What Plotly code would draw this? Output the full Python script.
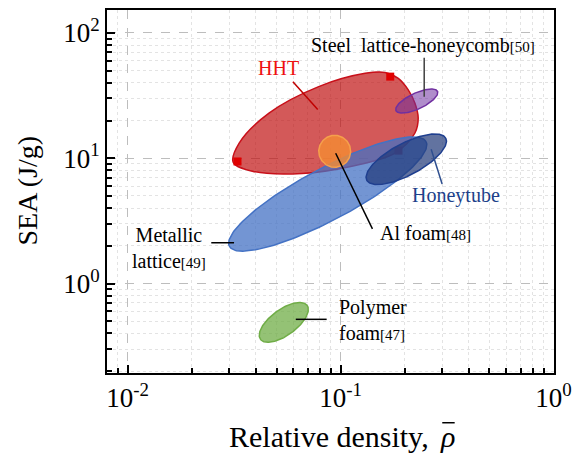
import numpy as np
import plotly.graph_objects as go

# ---------------- data ----------------
# HHT region outline (relative density, SEA in J/g)
hht_rho = [0.0313, 0.0385, 0.0659, 0.1129, 0.180, 0.2234, 0.2314, 0.2234,
           0.2078, 0.1866, 0.1618, 0.1304, 0.0789, 0.0461, 0.0334]
hht_sea = [9.30, 7.88, 7.56, 8.64, 11.0, 15.9, 20.9, 27.5,
           35.1, 43.4, 48.4, 47.6, 37.3, 22.9, 13.2]
# HHT measured specimens
hht_pt_rho = [0.0328, 0.171, 0.187]
hht_pt_sea = [9.42, 44.8, 11.5]

# Other material regions (ellipses in log-log space)
region_names = ["Metallic lattice", "Honeytube", "Al foam",
                "Steel lattice-honeycomb", "Polymer foam"]
region_rho = [0.0870, 0.2034, 0.0938, 0.2278, 0.0541]      # centre
region_sea = [5.18, 9.82, 11.36, 28.6, 0.490]              # centre
region_a = [0.523, 0.210, 0.0748, 0.1075, 0.1355]          # semi-major (decades)
region_b = [0.1215, 0.0748, 0.0748, 0.0374, 0.0607]        # semi-minor (decades)
region_tilt = [28, 28, 0, 25, 36]                          # degrees

x_tick_vals = [0.01, 0.1, 1]
x_tick_text = ["10<sup>-2</sup>", "10<sup>-1</sup>", "10<sup>0</sup>"]
y_tick_vals = [1, 10, 100]
y_tick_text = ["10<sup>0</sup>", "10<sup>1</sup>", "10<sup>2</sup>"]

# ---------------- styling ----------------
W, H = 580, 456
M = dict(l=107, r=23, t=8, b=83)
XR = [np.log10(0.008), 0.002]
YR = [-0.714, 2.183]
FONT = "Liberation Serif, Times New Roman, serif"

fills = {
    "Metallic lattice": ("rgba(68,114,196,0.75)", "#4472c4"),
    "Honeytube": ("rgba(31,56,120,0.70)", "#1f3f8f"),
    "Al foam": ("rgba(245,140,50,0.80)", "#f5a04c"),
    "Steel lattice-honeycomb": ("rgba(112,48,160,0.55)", "#7030a0"),
    "Polymer foam": ("rgba(112,173,71,0.75)", "#70ad47"),
}

pw = W - M["l"] - M["r"]
ph = H - M["t"] - M["b"]
k = (ph / (YR[1] - YR[0])) / (pw / (XR[1] - XR[0]))  # display aspect

fig = go.Figure()

# HHT region
fig.add_trace(go.Scatter(
    x=hht_rho + hht_rho[:1], y=hht_sea + hht_sea[:1],
    mode="lines", line=dict(color="#c8101a", width=1.5, shape="spline", smoothing=1.0),
    fill="toself", fillcolor="rgba(190,10,10,0.68)", hoverinfo="skip", showlegend=False))
fig.add_trace(go.Scatter(
    x=hht_pt_rho, y=hht_pt_sea, mode="markers",
    marker=dict(symbol="square", size=8, color="#e00000"), showlegend=False))

t = np.linspace(0, 2 * np.pi, 181)
for name, cx, cy, a, b, th in zip(region_names, region_rho, region_sea,
                                  region_a, region_b, region_tilt):
    r = np.radians(th)
    u = a * np.cos(t) * np.cos(r) - b * np.sin(t) * np.sin(r)
    w = a * np.cos(t) * np.sin(r) + b * np.sin(t) * np.cos(r)
    xs = 10 ** (np.log10(cx) + u)
    ys = 10 ** (np.log10(cy) + w / k)
    fc, lc = fills[name]
    fig.add_trace(go.Scatter(x=xs, y=ys, mode="lines", line=dict(color=lc, width=1.5),
                             fill="toself", fillcolor=fc, hoverinfo="skip",
                             showlegend=False))

# leader lines
leaders = [
    ([0.0597, 0.0781], [40.8, 24.5], "#c00000"),
    ([0.2469, 0.2469], [63.3, 31.0], "#404040"),
    ([0.2662, 0.2997], [11.79, 6.22], "#2f4f8f"),
    ([0.0948, 0.1411], [10.96, 2.73], "#000000"),
    ([0.0247, 0.0316], [2.116, 2.116], "#000000"),
    ([0.0616, 0.0860], [0.518, 0.518], "#000000"),
]
for lx, ly, lc in leaders:
    fig.add_trace(go.Scatter(x=lx, y=ly, mode="lines", line=dict(color=lc, width=1.5),
                             hoverinfo="skip", showlegend=False))

small = "<span style='font-size:15px'>%s</span>"
labels = [
    ("HHT", 0.0513, 52.7, "center", "#ee1111"),
    ("Steel  lattice-honeycomb" + small % "[50]", 0.2443, 78.9, "center", "#000000"),
    ("Honeytube", 0.3483, 5.08, "center", "#203f8a"),
    ("Al foam" + small % "[48]", 0.1505, 2.54, "left", "#000000"),
    ("Metallic<br>lattice" + small % "[49]", 0.01572, 1.93, "center", "#000000"),
    ("Polymer<br>foam" + small % "[47]", 0.0958, 0.508, "left", "#000000"),
]
for txt, lx, ly, anc, col in labels:
    fig.add_annotation(x=np.log10(lx), y=np.log10(ly), text=txt, showarrow=False,
                       xanchor=anc, yanchor="middle", align=anc,
                       font=dict(family=FONT, size=20, color=col))

# axis titles
title_font = dict(family=FONT, size=30, color="black")
fig.add_annotation(xref="paper", yref="paper", x=0.2689, y=-0.1753,
                   text="Relative density,", showarrow=False,
                   xanchor="left", yanchor="middle", font=title_font)
fig.add_annotation(xref="paper", yref="paper", x=0.762, y=-0.1753,
                   text="<i>ρ</i>", showarrow=False,
                   xanchor="center", yanchor="middle", font=title_font)
fig.add_shape(type="line", xref="paper", yref="paper", x0=0.7500, x1=0.7778,
              y0=-0.1370, y1=-0.1370, line=dict(color="black", width=1.5))
fig.add_annotation(xref="paper", yref="paper", x=-0.1778, y=0.5014,
                   text="SEA (J/g)", showarrow=False, textangle=-90,
                   xanchor="center", yanchor="middle",
                   font=dict(family=FONT, size=28, color="black"))

minor_x = [v * m for v in (0.001, 0.01, 0.1) for m in range(2, 10)]
minor_y = [v * m for v in (0.1, 1, 10) for m in range(2, 10)]

axis_common = dict(
    type="log", showline=True, linecolor="black", linewidth=2, mirror=True,
    ticks="inside", ticklen=8, tickwidth=2, tickcolor="black",
    showgrid=True, gridcolor="#bdbdbd", gridwidth=1.3, griddash="dash",
    zeroline=False, tickfont=dict(family=FONT, size=27, color="black"),
)
minor_common = dict(tickmode="array", ticks="inside", ticklen=5, tickwidth=1.5,
                    tickcolor="black", showgrid=True, gridcolor="#e3e3e3",
                    gridwidth=1, griddash="dot")
fig.update_xaxes(range=XR, tickmode="array", tickvals=x_tick_vals, ticktext=x_tick_text,
                 minor=dict(tickvals=minor_x, **minor_common), **axis_common)
fig.update_yaxes(range=YR, tickmode="array", tickvals=y_tick_vals, ticktext=y_tick_text,
                 minor=dict(tickvals=minor_y, **minor_common), **axis_common)

fig.update_layout(width=W, height=H, margin=M, plot_bgcolor="white",
                  paper_bgcolor="white", showlegend=False,
                  font=dict(family=FONT, color="black"))

fig.write_html("out.html", config={"displayModeBar": False},
               post_script="document.body.style.margin='0';document.body.style.overflow='hidden';")
